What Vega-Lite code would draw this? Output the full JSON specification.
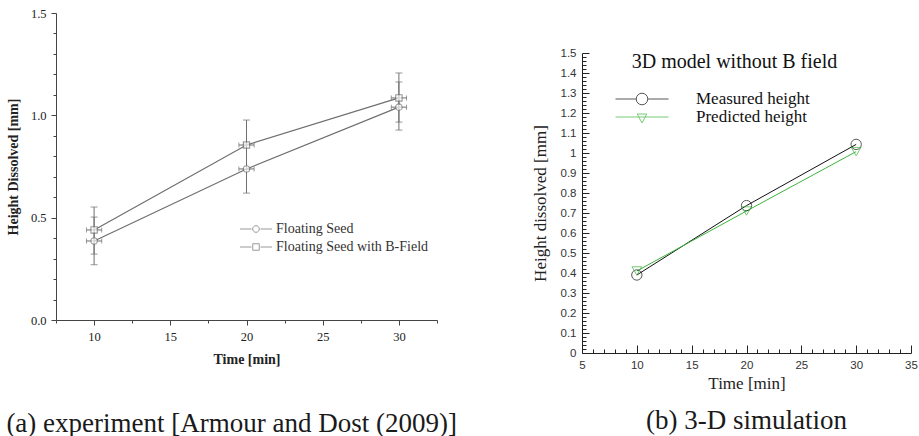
{
  "$schema": "https://vega.github.io/schema/vega-lite/v6.json",
  "padding": {"left": 6, "top": 7, "right": 0, "bottom": 0},
  "background": "white",
  "spacing": 74,
  "resolve": {"scale": {"color": "independent", "shape": "independent"}, "legend": {"color": "independent", "shape": "independent"}},
  "config": {
    "view": {"stroke": null},
    "font": "Liberation Serif",
    "axis": {"grid": false, "labelFlush": false, "labelOverlap": false}
  },
  "datasets": {
    "a": [
      {"s": "Floating Seed", "t": 10, "h": 0.386, "lo": 0.27, "hi": 0.503, "tlo": 9.5, "thi": 10.5},
      {"s": "Floating Seed", "t": 20, "h": 0.738, "lo": 0.62, "hi": 0.86, "tlo": 19.5, "thi": 20.5},
      {"s": "Floating Seed", "t": 30, "h": 1.04, "lo": 0.928, "hi": 1.163, "tlo": 29.5, "thi": 30.5},
      {"s": "Floating Seed with B-Field", "t": 10, "h": 0.44, "lo": 0.322, "hi": 0.552, "tlo": 9.5, "thi": 10.5},
      {"s": "Floating Seed with B-Field", "t": 20, "h": 0.855, "lo": 0.735, "hi": 0.977, "tlo": 19.5, "thi": 20.5},
      {"s": "Floating Seed with B-Field", "t": 30, "h": 1.085, "lo": 0.967, "hi": 1.207, "tlo": 29.5, "thi": 30.5}
    ],
    "b": [
      {"s": "Measured height", "t": 10, "h": 0.39},
      {"s": "Measured height", "t": 20, "h": 0.737},
      {"s": "Measured height", "t": 30, "h": 1.043},
      {"s": "Predicted height", "t": 10, "h": 0.41},
      {"s": "Predicted height", "t": 20, "h": 0.71},
      {"s": "Predicted height", "t": 30, "h": 1.007}
    ]
  },
  "hconcat": [
    {
      "width": 381,
      "height": 307,
      "title": {"text": "(a) experiment [Armour and Dost (2009)]", "orient": "bottom", "anchor": "start", "frame": "bounds", "offset": 44, "font": "Liberation Serif", "fontSize": 27, "fontWeight": "normal", "color": "#1a1a1a"},
      "data": {"name": "a"},
      "resolve": {"axis": {"x": "independent", "y": "independent"}},
      "layer": [
        {
          "transform": [{"filter": "datum.s === 'Floating Seed'"}],
          "mark": {"type": "line", "strokeWidth": 1.2, "color": "#6f6f6f"},
          "encoding": {
            "x": {"field": "t", "type": "quantitative", "scale": {"domain": [7.5, 32.5], "nice": false, "zero": false},
              "axis": {"orient": "bottom", "values": [10, 15, 20, 25, 30], "format": "d", "title": "Time [min]", "tickSize": 5, "tickColor": "#444", "domainColor": "#444", "labelFont": "Liberation Serif", "labelFontSize": 12.5, "labelColor": "#222", "labelPadding": 5, "titleFont": "Liberation Serif", "titleFontSize": 14, "titleFontWeight": "bold", "titleColor": "#222", "titlePadding": 10}},
            "y": {"field": "h", "type": "quantitative", "scale": {"domain": [0, 1.5], "nice": false, "zero": false},
              "axis": {"orient": "left", "values": [0, 0.5, 1, 1.5], "format": ".1f", "title": "Height Dissolved [mm]", "tickSize": 5, "tickColor": "#444", "domainColor": "#444", "labelFont": "Liberation Serif", "labelFontSize": 12.5, "labelColor": "#222", "labelPadding": 5, "titleFont": "Liberation Serif", "titleFontSize": 14, "titleFontWeight": "bold", "titleColor": "#222", "titlePadding": 10}}
          }
        },
        {
          "transform": [{"filter": "datum.s === 'Floating Seed with B-Field'"}],
          "mark": {"type": "line", "strokeWidth": 1.2, "color": "#6f6f6f"},
          "encoding": {
            "x": {"field": "t", "type": "quantitative",
              "axis": {"orient": "bottom", "values": [7.5, 12.5, 17.5, 22.5, 27.5, 32.5], "labels": false, "domain": false, "tickSize": 3, "tickColor": "#444", "title": null}},
            "y": {"field": "h", "type": "quantitative",
              "axis": {"orient": "left", "values": [0.1, 0.2, 0.3, 0.4, 0.6, 0.7, 0.8, 0.9, 1.1, 1.2, 1.3, 1.4], "labels": false, "domain": false, "tickSize": 3, "tickColor": "#444", "title": null}}
          }
        },
        {
          "mark": {"type": "errorbar", "color": "#6f6f6f", "ticks": {"size": 7}},
          "encoding": {
            "x": {"field": "t", "type": "quantitative", "axis": null},
            "y": {"field": "lo", "type": "quantitative", "axis": null},
            "y2": {"field": "hi"}
          }
        },
        {
          "mark": {"type": "errorbar", "color": "#6f6f6f", "ticks": {"size": 5}},
          "encoding": {
            "y": {"field": "h", "type": "quantitative", "axis": null},
            "x": {"field": "tlo", "type": "quantitative", "axis": null},
            "x2": {"field": "thi"}
          }
        },
        {
          "transform": [{"filter": "datum.s === 'Floating Seed'"}],
          "mark": {"type": "point", "shape": "circle", "size": 42, "filled": true, "fill": "white", "stroke": "#6f6f6f", "strokeWidth": 1.1},
          "encoding": {
            "x": {"field": "t", "type": "quantitative", "axis": null},
            "y": {"field": "h", "type": "quantitative", "axis": null}
          }
        },
        {
          "transform": [{"filter": "datum.s === 'Floating Seed with B-Field'"}],
          "mark": {"type": "point", "shape": "square", "size": 40, "filled": true, "fill": "white", "stroke": "#6f6f6f", "strokeWidth": 1.1},
          "encoding": {
            "x": {"field": "t", "type": "quantitative", "axis": null},
            "y": {"field": "h", "type": "quantitative", "axis": null}
          }
        },
        {
          "mark": {"type": "point", "size": 0, "filled": false, "strokeWidth": 1},
          "encoding": {
            "x": {"field": "t", "type": "quantitative", "axis": null},
            "y": {"field": "h", "type": "quantitative", "axis": null},
            "color": {"field": "s", "type": "nominal",
              "scale": {"domain": ["Floating Seed", "Floating Seed with B-Field"], "range": ["#6f6f6f", "#6f6f6f"]},
              "legend": {"title": null, "orient": "none", "legendX": 193, "legendY": 209, "symbolSize": 100, "symbolStrokeWidth": 1, "labelFont": "Liberation Serif", "labelFontSize": 14, "labelColor": "#333", "labelOffset": 13, "rowPadding": 4, "padding": 0, "labelLimit": 0}},
            "shape": {"field": "s", "type": "nominal",
              "scale": {"domain": ["Floating Seed", "Floating Seed with B-Field"], "range": ["M-3.2,0L-0.9,0M0.9,0L3.2,0M0.66,0A0.66 0.66 0 1 1 -0.66,0A0.66 0.66 0 1 1 0.66,0", "M-3.2,0L-0.9,0M0.9,0L3.2,0M-0.65,-0.65L0.65,-0.65L0.65,0.65L-0.65,0.65Z"]},
              "legend": {"title": null, "orient": "none", "legendX": 193, "legendY": 209, "symbolSize": 100, "symbolStrokeWidth": 1, "labelFont": "Liberation Serif", "labelFontSize": 14, "labelColor": "#333", "labelOffset": 13, "rowPadding": 4, "padding": 0, "labelLimit": 0}}
          }
        }
      ]
    },
    {
      "width": 329,
      "height": 340,
      "title": {"text": "(b) 3-D simulation", "orient": "bottom", "anchor": "middle", "frame": "group", "offset": 16, "font": "Liberation Serif", "fontSize": 27, "fontWeight": "normal", "color": "#1a1a1a"},
      "data": {"name": "b"},
      "resolve": {"axis": {"x": "independent", "y": "independent"}},
      "layer": [
        {
          "transform": [{"filter": "datum.s === 'Measured height'"}],
          "mark": {"type": "line", "strokeWidth": 1, "color": "#111111"},
          "encoding": {
            "x": {"field": "t", "type": "quantitative", "scale": {"domain": [5, 35], "nice": false, "zero": false},
              "axis": {"orient": "bottom", "values": [5, 10, 15, 20, 25, 30, 35], "format": "d", "title": "Time [min]", "tickSize": -8, "tickColor": "#222", "domainColor": "#222", "labelFont": "Liberation Sans", "labelFontSize": 11.5, "labelColor": "#333", "labelPadding": 14, "titleFont": "Liberation Serif", "titleFontSize": 17, "titleFontWeight": "normal", "titleColor": "#222", "titlePadding": 5}},
            "y": {"field": "h", "type": "quantitative", "scale": {"domain": [0, 1.5], "range": [340, 40], "nice": false, "zero": false},
              "axis": {"orient": "left", "values": [0, 0.1, 0.2, 0.3, 0.4, 0.5, 0.6, 0.7, 0.8, 0.9, 1, 1.1, 1.2, 1.3, 1.4, 1.5], "format": "~g", "title": "Height dissolved [mm]", "titleY": 190, "tickSize": -7, "tickColor": "#222", "domainColor": "#222", "labelFont": "Liberation Sans", "labelFontSize": 11.5, "labelColor": "#333", "labelPadding": 13, "titleFont": "Liberation Serif", "titleFontSize": 17, "titleFontWeight": "normal", "titleColor": "#222", "titlePadding": 11}}
          }
        },
        {
          "transform": [{"filter": "datum.s === 'Predicted height'"}],
          "mark": {"type": "line", "strokeWidth": 1, "color": "#3cb43c"},
          "encoding": {
            "x": {"field": "t", "type": "quantitative",
              "axis": {"orient": "bottom", "values": [6, 7, 8, 9, 11, 12, 13, 14, 16, 17, 18, 19, 21, 22, 23, 24, 26, 27, 28, 29, 31, 32, 33, 34], "labels": false, "domain": false, "tickSize": -4, "tickColor": "#222", "title": null}},
            "y": {"field": "h", "type": "quantitative",
              "axis": {"orient": "left", "values": [0.02, 0.04, 0.06, 0.08, 0.12, 0.14, 0.16, 0.18, 0.22, 0.24, 0.26, 0.28, 0.32, 0.34, 0.36, 0.38, 0.42, 0.44, 0.46, 0.48, 0.52, 0.54, 0.56, 0.58, 0.62, 0.64, 0.66, 0.68, 0.72, 0.74, 0.76, 0.78, 0.82, 0.84, 0.86, 0.88, 0.92, 0.94, 0.96, 0.98, 1.02, 1.04, 1.06, 1.08, 1.12, 1.14, 1.16, 1.18, 1.22, 1.24, 1.26, 1.28, 1.32, 1.34, 1.36, 1.38, 1.42, 1.44, 1.46, 1.48], "labels": false, "domain": false, "tickSize": -4, "tickColor": "#222", "title": null}}
          }
        },
        {
          "transform": [{"filter": "datum.s === 'Measured height'"}],
          "mark": {"type": "point", "shape": "circle", "size": 107, "filled": false, "stroke": "#111111", "strokeWidth": 1},
          "encoding": {
            "x": {"field": "t", "type": "quantitative",
              "axis": {"orient": "top", "domain": false, "ticks": false, "labels": false, "title": "3D model without B field", "titleX": 152, "titleY": 48, "titleAlign": "center", "titleBaseline": "middle", "titleAngle": 0, "titleFont": "Liberation Serif", "titleFontSize": 20, "titleFontWeight": "normal", "titleColor": "#111"}},
            "y": {"field": "h", "type": "quantitative", "axis": null}
          }
        },
        {
          "transform": [{"filter": "datum.s === 'Predicted height'"}],
          "mark": {"type": "point", "shape": "triangle-down", "size": 95, "filled": false, "stroke": "#3cb43c", "strokeWidth": 1},
          "encoding": {
            "x": {"field": "t", "type": "quantitative", "axis": null},
            "y": {"field": "h", "type": "quantitative", "axis": null}
          }
        },
        {
          "mark": {"type": "point", "size": 0, "filled": false, "strokeWidth": 1},
          "encoding": {
            "x": {"field": "t", "type": "quantitative", "axis": null},
            "y": {"field": "h", "type": "quantitative", "axis": null},
            "color": {"field": "s", "type": "nominal",
              "scale": {"domain": ["Measured height", "Predicted height"], "range": ["#111111", "#3cb43c"]},
              "legend": {"title": null, "orient": "none", "legendX": 51.5, "legendY": 77.5, "symbolSize": 100, "symbolStrokeWidth": 1, "labelFont": "Liberation Serif", "labelFontSize": 17, "labelColor": "#111", "labelOffset": 45.5, "rowPadding": 0, "padding": 0, "labelLimit": 0}},
            "shape": {"field": "s", "type": "nominal",
              "scale": {"domain": ["Measured height", "Predicted height"], "range": ["M-5.3,0L-1.16,0M1.16,0L5.3,0M1.16,0A1.16 1.16 0 1 1 -1.16,0A1.16 1.16 0 1 1 1.16,0", "M-5.3,0L5.3,0M-0.95,-0.6L0.95,-0.6L0,1.2Z"]},
              "legend": {"title": null, "orient": "none", "legendX": 51.5, "legendY": 77.5, "symbolSize": 100, "symbolStrokeWidth": 1, "labelFont": "Liberation Serif", "labelFontSize": 17, "labelColor": "#111", "labelOffset": 45.5, "rowPadding": 0, "padding": 0, "labelLimit": 0}}
          }
        }
      ]
    }
  ]
}
